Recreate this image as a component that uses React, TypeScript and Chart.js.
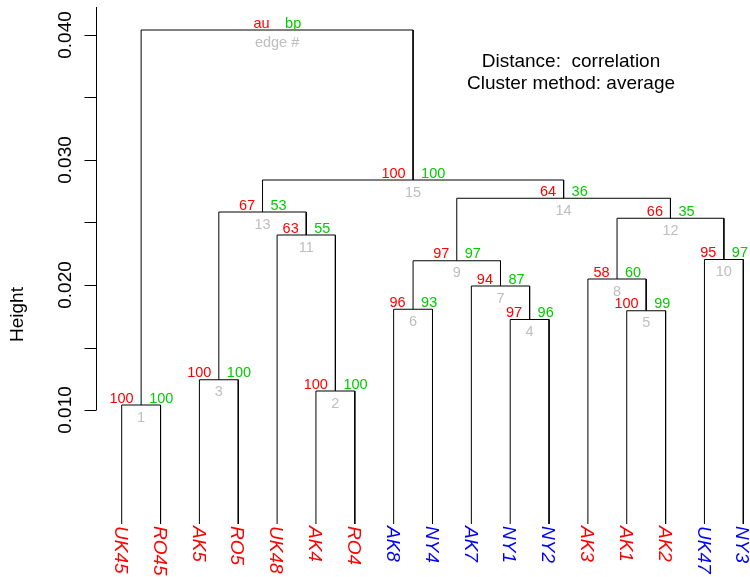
import React, { useEffect, useRef } from "react";
import { Chart, registerables } from "chart.js";

Chart.register(...registerables);

// Leaves in plotted order
const leafNames = ["UK45", "RO45", "AK5", "RO5", "UK48", "AK4", "RO4", "AK8", "NY4", "AK7", "NY1", "NY2", "AK3", "AK1", "AK2", "UK47", "NY3"];
const leafGroup = [1, 1, 1, 1, 1, 1, 1, 2, 2, 2, 2, 2, 1, 1, 1, 2, 2];

// hclust-style merges: negative = leaf (1-based position), positive = earlier merge
const mergeLeft = [-1, -6, -3, -11, -14, -8, -10, -13, 6, -16, -5, 8, 3, 9, 13, 1];
const mergeRight = [-2, -7, -4, -12, -15, -9, 4, 5, 7, -17, 2, 10, 11, 12, 14, 15];
const mergeHeight = [0.0104, 0.01152, 0.01242, 0.01724, 0.01794, 0.01806, 0.01992, 0.02048, 0.02194, 0.02204, 0.024, 0.02534, 0.02584, 0.02694, 0.0284, 0.0404];

// pvclust values for edges 1..15
const auValues = [100, 100, 100, 97, 100, 96, 94, 58, 97, 95, 63, 66, 67, 64, 100];
const bpValues = [100, 100, 100, 96, 99, 93, 87, 60, 97, 97, 55, 35, 53, 36, 100];

const leafHeight = 0.00088;
const yTicks = [0.01, 0.015, 0.02, 0.025, 0.03, 0.035, 0.04];
const yTickLabels = [0.01, 0.02, 0.03, 0.04];
const axisTop = 0.04224;

const FONT = "'Liberation Sans', Arial, Helvetica, sans-serif";
const groupColor: Record<number, string> = { 1: "#FF0000", 2: "#0000FF" };
const AU_COL = "#FF0000";
const BP_COL = "#00CD00";
const EDGE_COL = "#BEBEBE";

function computeTree() {
  const nx: number[] = [];
  const segs: { x: number; y: number }[][] = [];
  const childX = (c: number) => (c < 0 ? -c : nx[c - 1]);
  const childH = (c: number) => (c < 0 ? leafHeight : mergeHeight[c - 1]);
  for (let i = 0; i < mergeLeft.length; i++) {
    const l = mergeLeft[i];
    const r = mergeRight[i];
    const xl = childX(l);
    const xr = childX(r);
    const h = mergeHeight[i];
    nx.push((xl + xr) / 2);
    segs.push([
      { x: xl, y: childH(l) },
      { x: xl, y: h },
      { x: xr, y: h },
      { x: xr, y: childH(r) },
    ]);
  }
  return { nx, segs };
}

export default function App() {
  const ref = useRef<HTMLCanvasElement | null>(null);

  useEffect(() => {
    if (!ref.current) return;
    const { nx, segs } = computeTree();

    const textPlugin = {
      id: "pvtext",
      afterDatasetsDraw(chart: any) {
        const ctx = chart.ctx as CanvasRenderingContext2D;
        const xs = chart.scales.x;
        const ys = chart.scales.y;
        ctx.save();

        // y axis
        const ax = 96.5;
        ctx.strokeStyle = "#000";
        ctx.lineWidth = 1;
        ctx.beginPath();
        ctx.moveTo(ax, ys.getPixelForValue(axisTop));
        ctx.lineTo(ax, ys.getPixelForValue(yTicks[0]));
        ctx.stroke();
        for (const t of yTicks) {
          const py = Math.round(ys.getPixelForValue(t)) + 0.5;
          ctx.beginPath();
          ctx.moveTo(ax - 12, py);
          ctx.lineTo(ax, py);
          ctx.stroke();
        }
        ctx.fillStyle = "#000";
        ctx.font = `19px ${FONT}`;
        ctx.textAlign = "center";
        ctx.textBaseline = "alphabetic";
        for (const t of yTickLabels) {
          const py = ys.getPixelForValue(t);
          ctx.save();
          ctx.translate(70.5, py);
          ctx.rotate(-Math.PI / 2);
          ctx.fillText(t.toFixed(3), 0, 0);
          ctx.restore();
        }
        ctx.save();
        ctx.translate(22.5, 314.5);
        ctx.rotate(-Math.PI / 2);
        ctx.fillText("Height", 0, 0);
        ctx.restore();

        // method text
        ctx.textAlign = "center";
        ctx.fillText("Distance:  correlation", 571, 66.5);
        ctx.fillText("Cluster method: average", 571, 89);

        // leaf labels
        ctx.font = `italic 19px ${FONT}`;
        ctx.textAlign = "left";
        const topY = ys.getPixelForValue(leafHeight) + 2;
        leafNames.forEach((name, i) => {
          const px = xs.getPixelForValue(i + 1);
          ctx.save();
          ctx.fillStyle = groupColor[leafGroup[i]];
          ctx.translate(px - 6.8, topY);
          ctx.rotate(Math.PI / 2);
          ctx.fillText(name, 0, 0);
          ctx.restore();
        });

        // au / bp / edge labels
        ctx.font = `14.5px ${FONT}`;
        for (let i = 0; i < nx.length; i++) {
          const px = xs.getPixelForValue(nx[i]);
          const py = ys.getPixelForValue(mergeHeight[i]);
          const isRoot = i === nx.length - 1;
          const au = isRoot ? "au" : String(auValues[i]);
          const bp = isRoot ? "bp" : String(bpValues[i]);
          const edge = isRoot ? "edge #" : String(i + 1);
          ctx.textAlign = "right";
          ctx.fillStyle = AU_COL;
          ctx.fillText(au, px - 7.5, py - 2.5);
          ctx.textAlign = "left";
          ctx.fillStyle = BP_COL;
          ctx.fillText(bp, px + 8, py - 2.5);
          ctx.textAlign = "center";
          ctx.fillStyle = EDGE_COL;
          ctx.fillText(edge, px, py + 16.5);
        }
        ctx.restore();
      },
    };

    const chart = new Chart(ref.current, {
      type: "scatter",
      data: {
        datasets: segs.map((s) => ({
          data: s,
          showLine: true,
          borderColor: "#000",
          borderWidth: 1,
          pointRadius: 0,
          fill: false,
          tension: 0,
        })),
      },
      options: {
        animation: false,
        responsive: false,
        devicePixelRatio: 1,
        layout: { padding: 0 },
        plugins: { legend: { display: false }, tooltip: { enabled: false } },
        scales: {
          x: { type: "linear", min: -2.1326, max: 17.1725, display: false },
          y: { type: "linear", min: -0.00336, max: 0.0428, display: false },
        },
      },
      plugins: [textPlugin],
    } as any);
    return () => chart.destroy();
  }, []);

  return (
    <div style={{ position: "fixed", left: 0, top: 0, width: 750, height: 577, background: "#fff" }}>
      <canvas ref={ref} width={750} height={577} style={{ display: "block" }} />
    </div>
  );
}
